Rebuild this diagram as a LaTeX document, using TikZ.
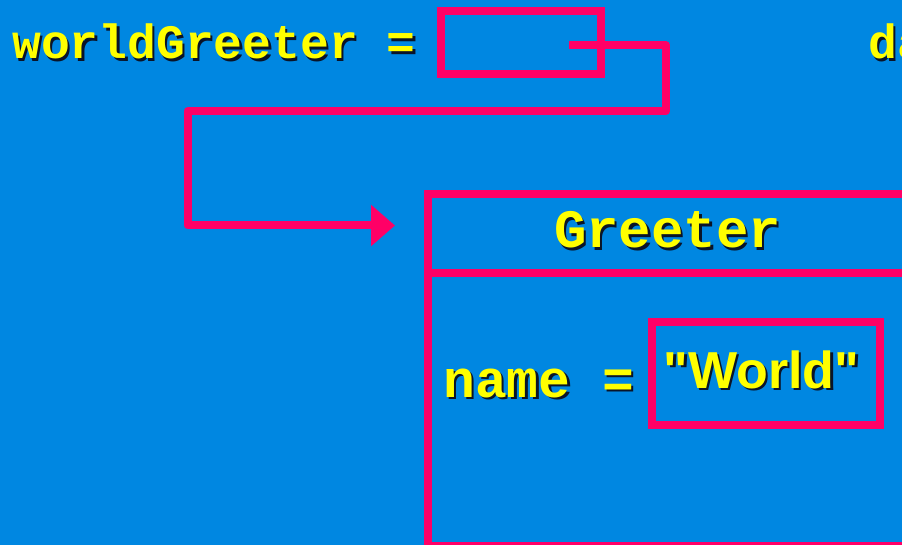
\documentclass[tikz,border=0pt]{standalone}
\usepackage{fontspec}
\usetikzlibrary{arrows.meta}
\newfontfamily\monofam{Liberation Mono}
\newfontfamily\sansfam{Liberation Sans}
\definecolor{bgblue}{RGB}{0,135,225}
\definecolor{pinkline}{RGB}{255,0,102}
\definecolor{txtyellow}{RGB}{255,255,0}
\definecolor{shadowc}{RGB}{10,20,40}
\tikzset{
  pinkbox/.style={draw=pinkline, line width=8pt, inner sep=0pt, outer sep=0pt, fill=none},
  codetxt/.style={inner sep=0pt, anchor=base west, text=txtyellow},
  shadowtxt/.style={inner sep=0pt, anchor=base west, text=shadowc},
  conn/.style={draw=pinkline, line width=8pt, line join=round,
    -{Triangle[length=24pt,width=40pt]}},
}
\newcommand{\shtext}[5]{% name, x, y, anchor, font+text
  \node[shadowtxt, anchor=#4] (#1s) at (#2+2.5,#3+2.5) {#5};
  \node[codetxt, anchor=#4] (#1) at (#2,#3) {#5};
}
\begin{document}
\begin{tikzpicture}[x=1pt,y=-1pt]
\useasboundingbox (0,0) rectangle (902,545);
\clip (0,0) rectangle (902,545);
\fill[bgblue] (0,0) rectangle (902,545);

% top reference box
\node[pinkbox, minimum width=160pt, minimum height=63.5pt, anchor=north west] (ref) at (441,11) {};
% object box
\node[pinkbox, minimum width=560pt, minimum height=352pt, anchor=north west] (obj) at (427.5,194) {};
\draw[pinkline, line width=8pt] (obj.west |- 0,273.5) -- (obj.east |- 0,273.5);
% value box
\node[pinkbox, minimum width=228pt, minimum height=103pt, anchor=north west] (val) at (652,322) {};

% connector
\coordinate (start) at (569,45.5);
\coordinate (tip) at (395,225.5);
\draw[conn] (start) -- (666,45.5) -- (666,111) -- (187.5,111) -- (187.5,225.5) -- (tip);

% texts
\shtext{lbl}{12}{59}{base west}{\monofam\bfseries\fontsize{48}{48}\selectfont worldGreeter =}
\shtext{dd}{868}{59}{base west}{\monofam\bfseries\fontsize{48}{48}\selectfont da}
\shtext{cls}{667.5}{248}{base}{\monofam\bfseries\fontsize{54}{54}\selectfont Greeter}
\shtext{fld}{443}{397}{base west}{\monofam\bfseries\fontsize{53}{53}\selectfont name =}
\shtext{wrd}{761.5}{388}{base}{\sansfam\bfseries\fontsize{52}{52}\selectfont "World"}
\end{tikzpicture}
\end{document}
